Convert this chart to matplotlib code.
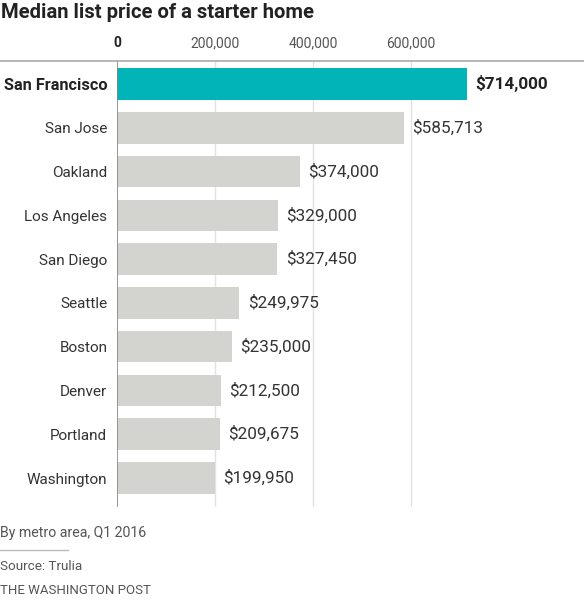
import matplotlib
matplotlib.use("Agg")
import matplotlib.pyplot as plt
from matplotlib.lines import Line2D

cities = ["San Francisco", "San Jose", "Oakland", "Los Angeles", "San Diego",
          "Seattle", "Boston", "Denver", "Portland", "Washington"]
prices = [714000, 585713, 374000, 329000, 327450, 249975, 235000, 212500, 209675, 199950]
price_labels = ["$714,000", "$585,713", "$374,000", "$329,000", "$327,450",
                "$249,975", "$235,000", "$212,500", "$209,675", "$199,950"]
xticks = [0, 200000, 400000, 600000]
xtick_labels = ["0", "200,000", "400,000", "600,000"]

plt.rcParams['font.family'] = ['Roboto', 'DejaVu Sans']
W, H = 584, 600
fig = plt.figure(figsize=(W / 100, H / 100), dpi=100)

left_px, top_px, bottom_px = 117, 61, 507
ax = fig.add_axes([left_px / W, 1 - bottom_px / H, 1 - left_px / W, (bottom_px - top_px) / H])
px_per_unit = 98 / 200000
ax.set_xlim(0, (W - left_px) / px_per_unit)
ax.set_ylim(9 + 29 / 43.8, -23 / 43.8)

colors = ["#00b4b7"] + ["#d3d3cf"] * (len(cities) - 1)
ys = list(range(len(cities)))
ax.barh(ys, prices, height=0.72, color=colors, zorder=2)

for x in xticks[1:]:
    ax.axvline(x, color="#e3e3e3", lw=1, zorder=1)
ax.axvline(0, color="#888888", lw=1.2, zorder=3)

for s in ax.spines.values():
    s.set_visible(False)
ax.set_xticks(xticks)
ax.xaxis.tick_top()
ax.set_xticklabels(xtick_labels, fontsize=10, color="#555555")
ax.get_xticklabels()[0].set_fontweight("bold")
ax.get_xticklabels()[0].set_color("#222222")
ax.tick_params(axis="x", length=0, pad=8)
ax.set_yticks(ys)
ax.set_yticklabels(cities, fontsize=11, color="#333333")
ax.get_yticklabels()[0].set_fontweight("bold")
ax.get_yticklabels()[0].set_fontsize(11.8)
ax.get_yticklabels()[0].set_color("#222222")
ax.tick_params(axis="y", length=0, pad=7)

for i, (y, v, lab) in enumerate(zip(ys, prices, price_labels)):
    ax.text(v + 17000, y, lab, va="center", ha="left", fontsize=12.3,
            color="#222222" if i == 0 else "#333333",
            fontweight="bold" if i == 0 else "normal")

# top rule
fig.add_artist(Line2D([0, 1], [1 - top_px / H] * 2, color="#aaaaaa", lw=1.2))

fig.text(1 / W, 1 - 12 / H, "Median list price of a starter home", fontsize=14.6,
         fontweight="bold", color="#222222", va="center", ha="left")
fig.text(0, 1 - 533 / H, "By metro area, Q1 2016", fontsize=10.2, color="#555555", va="center")
fig.add_artist(Line2D([0, 68 / W], [1 - 550 / H] * 2, color="#bbbbbb", lw=1))
fig.text(0, 1 - 566 / H, "Source: Trulia", fontsize=9.7, color="#555555", va="center")
fig.text(0, 1 - 590 / H, "THE WASHINGTON POST", fontsize=9.5, color="#555555", va="center")

fig.savefig("out.png", dpi=100, facecolor="white")
